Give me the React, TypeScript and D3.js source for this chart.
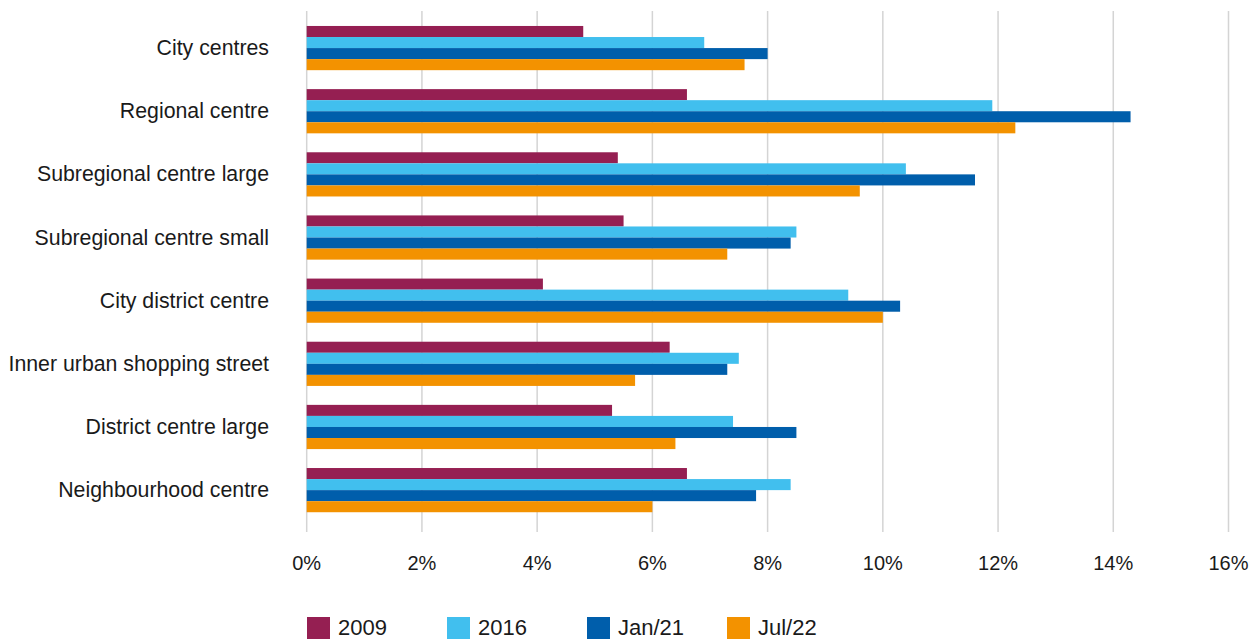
import React from "react";
import * as d3 from "d3";

// Vacancy rates by centre type
const categories = [
  "City centres",
  "Regional centre",
  "Subregional centre large",
  "Subregional centre small",
  "City district centre",
  "Inner urban shopping street",
  "District centre large",
  "Neighbourhood centre",
];

const seriesNames = ["2009", "2016", "Jan/21", "Jul/22"];
const seriesColors = ["#951f52", "#41bfee", "#005eab", "#f39200"];

const values2009 = [4.8, 6.6, 5.4, 5.5, 4.1, 6.3, 5.3, 6.6];
const values2016 = [6.9, 11.9, 10.4, 8.5, 9.4, 7.5, 7.4, 8.4];
const valuesJan21 = [8.0, 14.3, 11.6, 8.4, 10.3, 7.3, 8.5, 7.8];
const valuesJul22 = [7.6, 12.3, 9.6, 7.3, 10.0, 5.7, 6.4, 6.0];

const xTicks = [0, 2, 4, 6, 8, 10, 12, 14, 16];

const W = 1256;
const H = 639;
const FONT = "'Liberation Sans', Arial, sans-serif";

export default function App() {
  const seriesValues = [values2009, values2016, valuesJan21, valuesJul22];

  const x = d3.scaleLinear().domain([0, 16]).range([306.7, 1228.5]);
  const y = d3
    .scaleBand<string>()
    .domain(categories)
    .range([16.5, 521.7])
    .paddingInner(0.3)
    .paddingOuter(0.15);
  const sub = d3
    .scaleBand<string>()
    .domain(seriesNames)
    .range([0, y.bandwidth()]);

  const gridTop = 11;
  const gridBottom = 532;

  return (
    <svg
      width={W}
      height={H}
      style={{ position: "absolute", left: 0, top: 0, display: "block", background: "#fff" }}
      fontFamily={FONT}
    >
      {/* vertical gridlines */}
      {xTicks.map((t) => (
        <line
          key={"g" + t}
          x1={x(t)}
          x2={x(t)}
          y1={gridTop}
          y2={gridBottom}
          stroke="#d4d4d4"
          strokeWidth={1.5}
        />
      ))}

      {/* bars */}
      {categories.map((c, ci) => (
        <g key={c} transform={`translate(0,${y(c)})`}>
          {seriesNames.map((s, si) => (
            <rect
              key={s}
              x={x(0)}
              y={sub(s)}
              width={x(seriesValues[si][ci]) - x(0)}
              height={sub.bandwidth()}
              fill={seriesColors[si]}
            />
          ))}
        </g>
      ))}

      {/* category labels */}
      {categories.map((c) => (
        <text
          key={"l" + c}
          x={269}
          y={(y(c) as number) + y.bandwidth() / 2}
          textAnchor="end"
          dominantBaseline="central"
          fontSize={21.3}
          fill="#1a1a1a"
        >
          {c}
        </text>
      ))}

      {/* x tick labels */}
      {xTicks.map((t) => (
        <text
          key={"t" + t}
          x={x(t)}
          y={563}
          textAnchor="middle"
          dominantBaseline="central"
          fontSize={20}
          fill="#1a1a1a"
        >
          {d3.format("d")(t) + "%"}
        </text>
      ))}

      {/* legend */}
      {seriesNames.map((s, si) => (
        <g key={"lg" + s} transform={`translate(${307 + si * 140},617)`}>
          <rect x={0} y={0} width={23} height={23} fill={seriesColors[si]} />
          <text x={31} y={10.5} dominantBaseline="central" fontSize={22} fill="#1a1a1a">
            {s}
          </text>
        </g>
      ))}
    </svg>
  );
}
